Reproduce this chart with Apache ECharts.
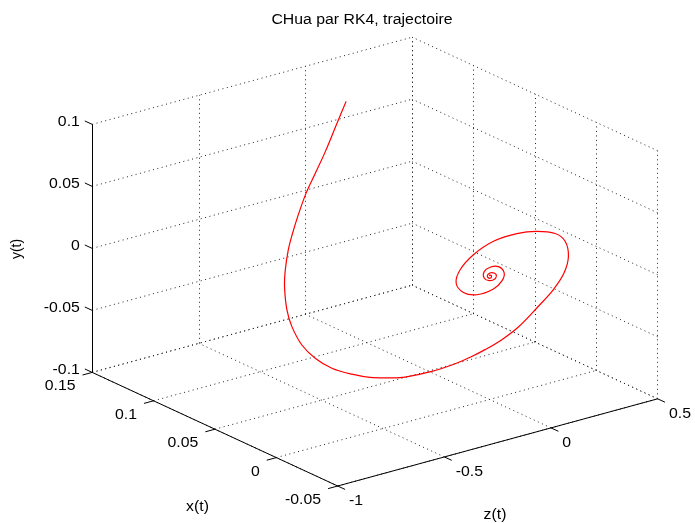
<!DOCTYPE html>
<html>
<head>
<meta charset="utf-8">
<script src="https://cdn.jsdelivr.net/npm/echarts@6/dist/echarts.min.js"></script>
<style>
  html, body { margin: 0; padding: 0; background: #fff; }
  #chart { width: 695px; height: 523px; }
</style>
</head>
<body>
<div id="chart"></div>
<script>
// ---- axis limits and ticks ----
const xLim = [-0.05, 0.15];
const yLim = [-0.1, 0.1];
const zLim = [-1, 0.5];
const xTicks = [-0.05, 0, 0.05, 0.1, 0.15];
const yTicks = [-0.1, -0.05, 0, 0.05, 0.1];
const zTicks = [-1, -0.5, 0, 0.5];
const xTickLabels = ['-0.05', '0', '0.05', '0.1', '0.15'];
const yTickLabels = ['-0.1', '-0.05', '0', '0.05', '0.1'];
const zTickLabels = ['-1', '-0.5', '0', '0.5'];

// ---- Chua trajectory (RK4 samples) ----
const trajX = [0.112, 0.118, 0.120, 0.118, 0.112, 0.103, 0.092, 0.082, 0.068, 0.052,
  0.040, 0.032, 0.024, 0.017, 0.011, 0.006, 0.002, 0.000, -0.002, -0.006,
  -0.010, -0.013, -0.015, -0.017, -0.018, -0.017, -0.014, -0.009, -0.004, 0.001,
  0.005, 0.008, 0.010, 0.011, 0.010, 0.007, 0.003, -0.001, -0.004, -0.005,
  -0.004, -0.002, 0.000, 0.002, 0.002, 0.001, 0.000, -0.001, -0.001, 0.000,
  0.001, 0.000, 0.000, 0.000, 0.000, 0.000];
const trajY = [0.0904, 0.0706, 0.0488, 0.0350, 0.0252, 0.0147, 0.0085, 0.0053, -0.0001, -0.0020,
  -0.0124, -0.0211, -0.0323, -0.0408, -0.0481, -0.0537, -0.0574, -0.0607, -0.0619, -0.0603,
  -0.0563, -0.0519, -0.0479, -0.0423, -0.0349, -0.0242, -0.0152, -0.0077, 0.0011, 0.0103,
  0.0158, 0.0194, 0.0205, 0.0187, 0.0130, 0.0060, -0.0009, -0.0072, -0.0098, -0.0081,
  -0.0040, 0.0005, 0.0052, 0.0051, 0.0028, -0.0015, -0.0041, -0.0031, 0.0000, 0.0017,
  0.0006, -0.0009, -0.0023, -0.0010, 0.0001, -0.0005];
const trajZ = [-0.0283, -0.0359, -0.0792, -0.1376, -0.2158, -0.3071, -0.3978, -0.4718, -0.5666, -0.6622,
  -0.7201, -0.7428, -0.7421, -0.7201, -0.6764, -0.6114, -0.5487, -0.4665, -0.4077, -0.3056,
  -0.2194, -0.1584, -0.1076, -0.0441, 0.0298, 0.1233, 0.2184, 0.2974, 0.3464, 0.3597,
  0.3359, 0.2674, 0.1852, 0.0812, -0.0183, -0.0979, -0.1398, -0.1286, -0.0831, -0.0110,
  0.0355, 0.0564, 0.0413, 0.0139, -0.0143, -0.0200, -0.0023, 0.0200, 0.0247, 0.0117,
  -0.0013, -0.0094, 0.0023, 0.0094, 0.0023, -0.0009];

// ---- orthographic view: azimuth -37.5 deg, elevation 30 deg ----
// horizontal axis 1 carries z(t), horizontal axis 2 carries x(t), vertical carries y(t)
const AZ = -37.5 * Math.PI / 180;
const EL = 30 * Math.PI / 180;
const view = { ox: 337.7, oy: 486, sx: 403.3, sy: 286.4 };
function project(x, y, z) {
  const X = (z - zLim[0]) / (zLim[1] - zLim[0]);
  const Y = (x - xLim[0]) / (xLim[1] - xLim[0]);
  const Z = (y - yLim[0]) / (yLim[1] - yLim[0]);
  const u = Math.cos(AZ) * X + Math.sin(AZ) * Y;
  const v = -Math.sin(EL) * Math.sin(AZ) * X + Math.sin(EL) * Math.cos(AZ) * Y + Math.cos(EL) * Z;
  return [view.ox + view.sx * u, view.oy - view.sy * v];
}
const seg = (a, b) => ({ coords: [project(a[0], a[1], a[2]), project(b[0], b[1], b[2])] });

const [x0, x1] = xLim, [y0, y1] = yLim, [z0, z1] = zLim;

// dotted grid on the floor and the two back walls
const gridSegs = [];
zTicks.forEach(z => {
  gridSegs.push(seg([x1, y0, z], [x1, y1, z]));   // left back wall, verticals
  gridSegs.push(seg([x0, y0, z], [x1, y0, z]));   // floor
});
xTicks.forEach(x => {
  gridSegs.push(seg([x, y0, z1], [x, y1, z1]));   // right back wall, verticals
  gridSegs.push(seg([x, y0, z0], [x, y0, z1]));   // floor
});
yTicks.forEach(y => {
  gridSegs.push(seg([x1, y, z0], [x1, y, z1]));   // left back wall, horizontals
  gridSegs.push(seg([x0, y, z1], [x1, y, z1]));   // right back wall, horizontals
});

// solid axis lines
const axisSegs = [
  seg([x1, y0, z0], [x1, y1, z0]),
  seg([x0, y0, z0], [x1, y0, z0]),
  seg([x0, y0, z0], [x0, y0, z1])
];

// tick marks pointing out of the box, with their labels
const TL = 0.03;
const tickSegs = [];
const labels = [];
const TEXT_SX = 1.13;
yTicks.forEach((y, i) => {
  const s = seg([x1, y, z0], [x1 + TL * (x1 - x0), y, z0]);
  tickSegs.push(s);
  const e = s.coords[1];
  labels.push({ pos: [e[0] - 5, e[1] + 1.5], text: yTickLabels[i], align: 'right' });
});
xTicks.forEach((x, i) => {
  const s = seg([x, y0, z0], [x, y0, z0 - TL * (z1 - z0)]);
  tickSegs.push(s);
  const e = s.coords[1];
  labels.push({ pos: [e[0] - 7, e[1] + 11.5], text: xTickLabels[i], align: 'right' });
});
zTicks.forEach((z, i) => {
  const s = seg([x0, y0, z], [x0 - TL * (x1 - x0), y0, z]);
  tickSegs.push(s);
  const e = s.coords[1];
  labels.push({ pos: [e[0] + 4, e[1] + 12], text: zTickLabels[i], align: 'left' });
});
labels.push({ pos: [197.5, 507.5], text: 'x(t)', align: 'center' });
labels.push({ pos: [495, 515], text: 'z(t)', align: 'center' });
labels.push({ pos: [17, 249], text: 'y(t)', align: 'center', rot: Math.PI / 2 });
labels.push({ pos: [362, 20], text: 'CHua par RK4, trajectoire', align: 'center' });

const curve = trajX.map((x, i) => project(x, trajY[i], trajZ[i]));

const chart = echarts.init(document.getElementById('chart'), null, { renderer: 'canvas' });
chart.setOption({
  animation: false,
  backgroundColor: '#ffffff',
  grid: { left: 0, top: 0, width: 695, height: 523 },
  xAxis: { type: 'value', min: 0, max: 695, show: false },
  yAxis: { type: 'value', min: 0, max: 523, inverse: true, show: false },
  series: [
    {
      type: 'lines', coordinateSystem: 'cartesian2d', silent: true, z: 1,
      lineStyle: { color: '#222', width: 1, type: [1, 3.5], opacity: 1 },
      data: gridSegs
    },
    {
      type: 'lines', coordinateSystem: 'cartesian2d', silent: true, z: 2,
      lineStyle: { color: '#000', width: 1, type: 'solid', opacity: 1 },
      data: axisSegs.concat(tickSegs)
    },
    {
      // trajectory as one smoothed polyline through the projected samples
      type: 'custom', z: 3, silent: true,
      data: curve,
      renderItem: (params, api) => {
        if (params.dataIndex !== 0) return null;
        const pts = curve.map(p => api.coord(p));
        return {
          type: 'polyline',
          shape: { points: pts, smooth: 0.35 },
          style: { stroke: '#ff0000', lineWidth: 1.2, fill: null }
        };
      }
    },
    {
      type: 'custom', z: 4, silent: true,
      data: labels.map(l => l.pos),
      renderItem: (params, api) => {
        const L = labels[params.dataIndex];
        const p = api.coord([api.value(0), api.value(1)]);
        return {
          type: 'text', x: p[0], y: p[1],
          rotation: L.rot || 0,
          scaleX: L.rot ? 1 : TEXT_SX,
          style: {
            text: L.text, align: L.align, verticalAlign: 'middle',
            fontSize: 14, fontFamily: '"Liberation Sans", Arial, sans-serif', fill: '#000'
          }
        };
      }
    }
  ]
});
</script>
</body>
</html>
